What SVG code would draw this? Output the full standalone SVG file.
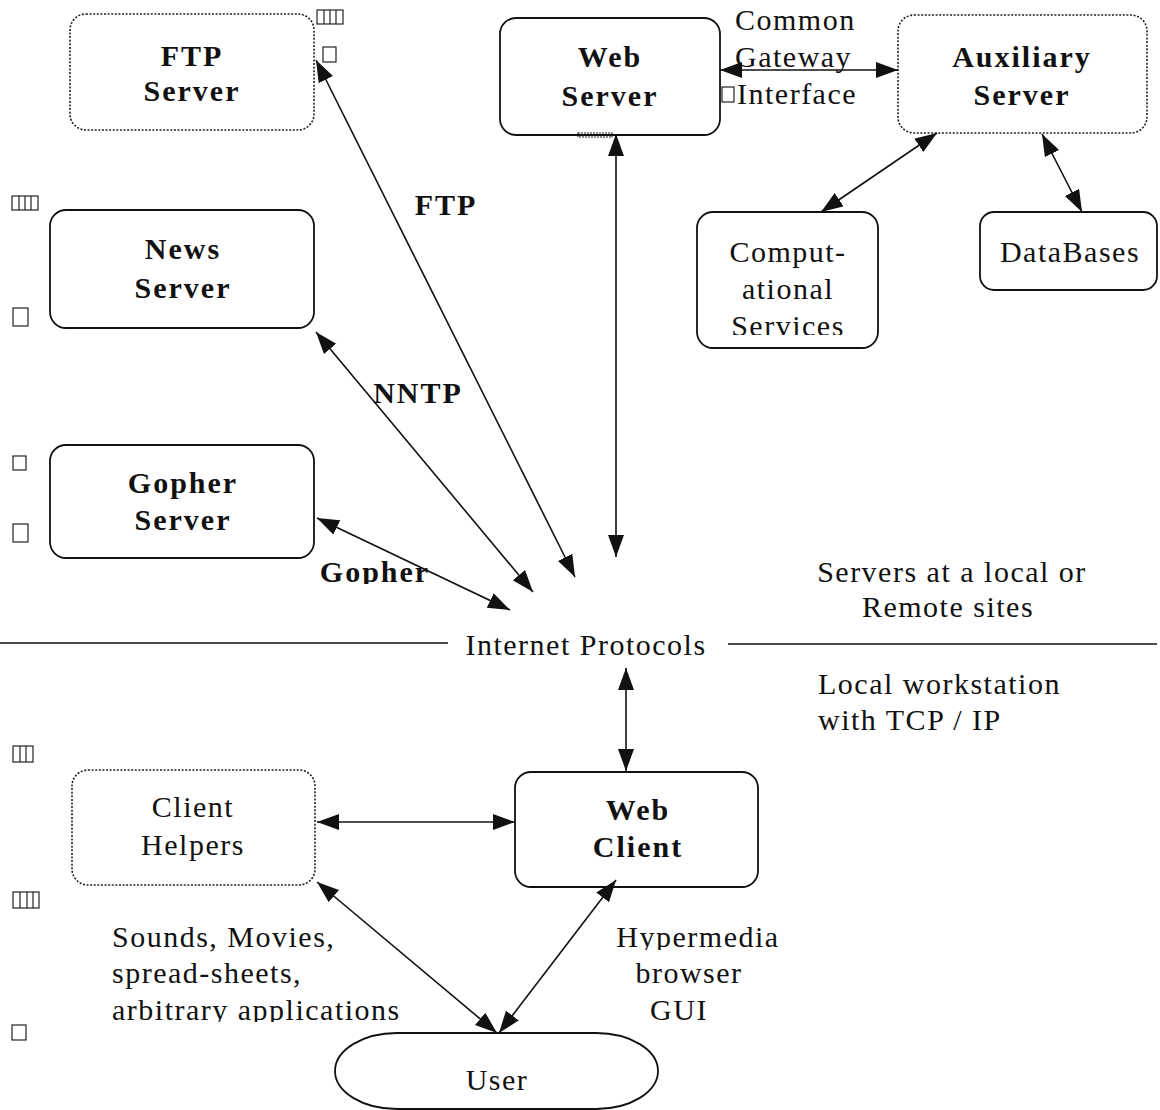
<svg xmlns="http://www.w3.org/2000/svg" width="1160" height="1110" viewBox="0 0 1160 1110">
<style>
.box{fill:#fff;stroke:#111;stroke-width:1.8}
.dot{fill:#fff;stroke:#222;stroke-width:1.6;stroke-dasharray:2 1.6}
.b{font-family:"Liberation Serif",serif;font-weight:bold;font-size:30px;letter-spacing:2px;fill:#111;text-anchor:middle}
.t{font-family:"Liberation Serif",serif;font-size:30px;letter-spacing:1.5px;fill:#111}
.c{text-anchor:middle}
.conn line{stroke:#111;stroke-width:1.6;marker-start:url(#ah);marker-end:url(#ah)}
.g{fill:none;stroke:#222;stroke-width:1.2}
</style>
<defs>
<marker id="ah" markerUnits="userSpaceOnUse" markerWidth="24" markerHeight="18" refX="22" refY="8" orient="auto-start-reverse">
<path d="M0,0 L22,8 L0,16 z" fill="#111"/>
</marker>
<clipPath id="cpServ"><rect x="690" y="200" width="200" height="135"/></clipPath>
<clipPath id="cpGoph"><rect x="300" y="540" width="150" height="44"/></clipPath>
<clipPath id="cpArb"><rect x="100" y="990" width="320" height="32"/></clipPath>
<clipPath id="cpHyp"><rect x="600" y="910" width="200" height="40"/></clipPath>
</defs>
<rect width="1160" height="1110" fill="#fff"/>

<g id="ftp-server"><rect class="dot" x="70" y="14" width="244" height="116" rx="16"/><text class="b" x="192" y="66">FTP</text><text class="b" x="192" y="101">Server</text></g>
<g id="web-server"><rect class="box" x="500" y="18" width="220" height="117" rx="16"/><text class="b" x="610" y="67">Web</text><text class="b" x="610" y="106">Server</text></g>
<g id="auxiliary-server"><rect class="dot" x="898" y="15" width="249" height="118" rx="16"/><text class="b" x="1022" y="67">Auxiliary</text><text class="b" x="1022" y="105">Server</text></g>
<g id="news-server"><rect class="box" x="50" y="210" width="264" height="118" rx="16"/><text class="b" x="183" y="259">News</text><text class="b" x="183" y="298">Server</text></g>
<g id="gopher-server"><rect class="box" x="50" y="445" width="264" height="113" rx="16"/><text class="b" x="183" y="493">Gopher</text><text class="b" x="183" y="530">Server</text></g>
<g id="computational-services"><rect class="box" x="697" y="212" width="181" height="136" rx="16"/><text class="t c" x="788" y="262">Comput-</text><text class="t c" x="788" y="299">ational</text><text class="t c" x="788" y="336" clip-path="url(#cpServ)">Services</text></g>
<g id="databases"><rect class="box" x="980" y="212" width="177" height="78" rx="14"/><text class="t c" x="1070" y="262">DataBases</text></g>
<g id="client-helpers"><rect class="dot" x="72" y="770" width="243" height="115" rx="16"/><text class="t c" x="193" y="817">Client</text><text class="t c" x="193" y="855">Helpers</text></g>
<g id="web-client"><rect class="box" x="515" y="772" width="243" height="115" rx="16"/><text class="b" x="638" y="820">Web</text><text class="b" x="638" y="857">Client</text></g>
<g id="user"><rect class="box" x="335" y="1033" width="323" height="76" rx="62" ry="38"/><text class="t c" x="497" y="1090">User</text></g>

<g id="connectors" class="conn">
<line x1="316" y1="60" x2="575" y2="577"/>
<line x1="316" y1="332" x2="533" y2="592"/>
<line x1="317" y1="518" x2="510" y2="610"/>
<line x1="616" y1="134" x2="616" y2="557"/>
<line x1="720" y1="70" x2="898" y2="70"/>
<line x1="937" y1="133" x2="821" y2="212"/>
<line x1="1042" y1="134" x2="1082" y2="212"/>
<line x1="626" y1="668" x2="626" y2="771"/>
<line x1="317" y1="822" x2="515" y2="822"/>
<line x1="317" y1="882" x2="497" y2="1033"/>
<line x1="616" y1="880" x2="499" y2="1033"/>
</g>
<g id="divider"><line x1="0" y1="643" x2="448" y2="643" stroke="#111" stroke-width="1.5"/><line x1="728" y1="644" x2="1157" y2="644" stroke="#111" stroke-width="1.5"/></g>

<g id="labels">
<text class="b" x="446" y="215">FTP</text>
<text class="b" x="418" y="403">NNTP</text>
<text class="b" x="375" y="582" clip-path="url(#cpGoph)">Gopher</text>
<text class="t" x="735" y="30">Common</text>
<text class="t" x="735" y="67">Gateway</text>
<text class="t" x="737" y="104">Interface</text>
<text class="t c" x="586" y="655">Internet Protocols</text>
<text class="t c" x="952" y="582">Servers at a local or</text>
<text class="t c" x="948" y="617">Remote sites</text>
<text class="t" x="818" y="694">Local workstation</text>
<text class="t" x="818" y="730">with TCP / IP</text>
<text class="t" x="112" y="947">Sounds, Movies,</text>
<text class="t" x="112" y="983">spread-sheets,</text>
<text class="t" x="112" y="1020" clip-path="url(#cpArb)">arbitrary applications</text>
<text class="t c" x="698" y="947" clip-path="url(#cpHyp)">Hypermedia</text>
<text class="t c" x="689" y="983">browser</text>
<text class="t c" x="679" y="1020">GUI</text>
</g>

<g id="glyphs" class="g">
<rect x="317" y="10" width="26" height="14"/><line x1="324" y1="10" x2="324" y2="24"/><line x1="330" y1="10" x2="330" y2="24"/><line x1="336" y1="10" x2="336" y2="24"/>
<rect x="323" y="47" width="13" height="15"/>
<rect x="722" y="87" width="12" height="15"/>
<rect x="12" y="196" width="26" height="14"/><line x1="19" y1="196" x2="19" y2="210"/><line x1="25" y1="196" x2="25" y2="210"/><line x1="31" y1="196" x2="31" y2="210"/>
<rect x="13" y="308" width="15" height="18"/>
<rect x="13" y="456" width="13" height="14"/>
<rect x="13" y="524" width="15" height="18"/>
<rect x="13" y="746" width="20" height="16"/><line x1="20" y1="746" x2="20" y2="762"/><line x1="26" y1="746" x2="26" y2="762"/>
<rect x="13" y="892" width="26" height="16"/><line x1="20" y1="892" x2="20" y2="908"/><line x1="27" y1="892" x2="27" y2="908"/><line x1="33" y1="892" x2="33" y2="908"/>
<rect x="12" y="1025" width="14" height="15"/>
<rect x="578" y="133" width="34" height="4" stroke-dasharray="2 1"/>
</g>
</svg>
